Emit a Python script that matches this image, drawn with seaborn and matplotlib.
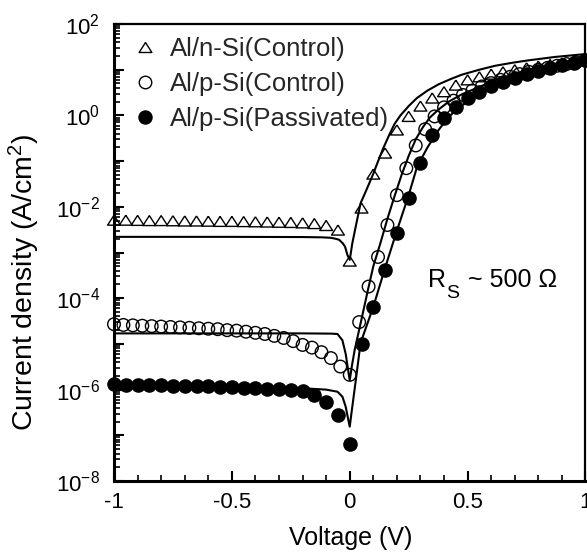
import numpy as np
import pandas as pd
import matplotlib
matplotlib.use("Agg")
import matplotlib.pyplot as plt
import seaborn as sns
from matplotlib.lines import Line2D
from matplotlib.ticker import FixedLocator, FuncFormatter, LogLocator, MultipleLocator, FixedFormatter, NullFormatter

# ---------------- data ----------------
# Al/n-Si (Control) : open triangles
tri_v = [-1.00, -0.95, -0.90, -0.85, -0.80, -0.75, -0.70, -0.65, -0.60, -0.55,
         -0.50, -0.45, -0.40, -0.35, -0.30, -0.25, -0.20, -0.15, -0.10, -0.05,
         0.00, 0.05, 0.10, 0.15, 0.20, 0.25, 0.30, 0.35, 0.40, 0.45,
         0.50, 0.55, 0.60, 0.65, 0.70, 0.75, 0.80, 0.85, 0.90, 0.95, 1.00]
tri_j = [5.1e-3, 5.1e-3, 5.05e-3, 5.0e-3, 5.0e-3, 4.95e-3, 4.9e-3, 4.9e-3, 4.85e-3, 4.8e-3,
         4.8e-3, 4.75e-3, 4.7e-3, 4.65e-3, 4.6e-3, 4.55e-3, 4.45e-3, 4.3e-3, 3.9e-3, 3.1e-3,
         6.5e-4, 9.4e-3, 5.2e-2, 0.15, 0.48, 0.95, 1.6, 2.4, 3.3, 4.6,
         6.0, 7.0, 8.0, 9.0, 10.0, 11.0, 12.0, 13.0, 14.0, 15.0, 16.0]

# Al/p-Si (Control) : open circles
cir_v = [-1.00, -0.96, -0.92, -0.88, -0.84, -0.80, -0.76, -0.72, -0.68, -0.64,
         -0.60, -0.56, -0.52, -0.48, -0.44, -0.40, -0.36, -0.32, -0.28, -0.24,
         -0.20, -0.16, -0.12, -0.08, -0.04, 0.00,
         0.04, 0.08, 0.12, 0.16, 0.20, 0.24, 0.28, 0.32, 0.36, 0.40,
         0.44, 0.48, 0.52, 0.56, 0.60, 0.64, 0.68, 0.72, 0.76, 0.80,
         0.84, 0.88, 0.92, 0.96, 1.00]
cir_j = [2.7e-5, 2.6e-5, 2.55e-5, 2.5e-5, 2.45e-5, 2.4e-5, 2.35e-5, 2.3e-5, 2.25e-5, 2.2e-5,
         2.15e-5, 2.1e-5, 2.0e-5, 1.95e-5, 1.85e-5, 1.75e-5, 1.65e-5, 1.5e-5, 1.35e-5, 1.15e-5,
         9.5e-6, 8.3e-6, 6.6e-6, 4.9e-6, 3.2e-6, 2.1e-6,
         3.0e-5, 1.8e-4, 8.0e-4, 4.0e-3, 1.8e-2, 7.0e-2, 0.22, 0.5, 0.95, 1.5,
         2.1, 2.8, 3.5, 4.3, 5.1, 6.0, 7.0, 8.0, 9.0, 10.0,
         11.0, 12.2, 13.3, 14.5, 15.8]

# Al/p-Si (Passivated) : filled circles
fil_v = [-1.00, -0.95, -0.90, -0.85, -0.80, -0.75, -0.70, -0.65, -0.60, -0.55,
         -0.50, -0.45, -0.40, -0.35, -0.30, -0.25, -0.20, -0.15, -0.10, -0.05,
         0.00, 0.05, 0.10, 0.15, 0.20, 0.25, 0.30, 0.35, 0.40, 0.45,
         0.50, 0.55, 0.60, 0.65, 0.70, 0.75, 0.80, 0.85, 0.90, 0.95, 1.00]
fil_j = [1.3e-6, 1.28e-6, 1.27e-6, 1.26e-6, 1.25e-6, 1.23e-6, 1.22e-6, 1.2e-6, 1.18e-6, 1.16e-6,
         1.13e-6, 1.1e-6, 1.08e-6, 1.05e-6, 1.02e-6, 9.9e-7, 9.5e-7, 7.6e-7, 5.3e-7, 2.8e-7,
         6.5e-8, 1.0e-5, 6.4e-5, 4.2e-4, 2.7e-3, 1.55e-2, 9.0e-2, 0.37, 0.87, 1.5,
         2.4, 3.3, 4.4, 5.5, 6.6, 8.0, 9.5, 11.0, 12.5, 14.0, 16.0]

# fitted curves (solid lines)
fit_tri_v = [-1.0, -0.5, -0.2, -0.12, -0.08, -0.06, -0.045, -0.03, -0.02, -0.01, 0.0,
             0.011, 0.025, 0.046, 0.065, 0.082, 0.1, 0.117, 0.14, 0.166, 0.19, 0.215,
             0.25, 0.285, 0.33, 0.377, 0.43, 0.476, 0.55, 0.617, 0.69, 0.757, 0.87, 1.0]
fit_tri_j = [2.2e-3, 2.2e-3, 2.18e-3, 2.15e-3, 2.1e-3, 2.0e-3, 1.9e-3, 1.6e-3, 1.35e-3, 8.9e-4, 6.9e-4,
             1.6e-3, 3.6e-3, 1.2e-2, 2.0e-2, 3.2e-2, 5.3e-2, 0.09, 0.18, 0.36, 0.65, 1.0,
             1.6, 2.4, 3.5, 4.8, 6.3, 7.8, 10.0, 12.2, 14.2, 16.0, 19.0, 22.0]

fit_cir_v = [-1.0, -0.5, -0.2, -0.08, -0.052, -0.031, -0.017, -0.007, 0.0,
             0.01, 0.021, 0.049, 0.077, 0.1, 0.13, 0.16, 0.19, 0.22, 0.25, 0.28,
             0.31, 0.34, 0.377, 0.42, 0.476, 0.55, 0.617, 0.69, 0.757, 0.87, 1.0]
fit_cir_j = [1.7e-5, 1.7e-5, 1.7e-5, 1.68e-5, 1.65e-5, 1.2e-5, 6.0e-6, 2.7e-6, 1.6e-6,
             3.5e-6, 7.4e-6, 3.3e-5, 1.5e-4, 5.0e-4, 1.6e-3, 5.5e-3, 1.7e-2, 5.0e-2, 0.13, 0.3,
             0.55, 0.9, 1.35, 2.0, 2.9, 4.2, 5.9, 7.8, 9.8, 13.5, 18.0]

fit_fil_v = [-1.0, -0.5, -0.2, -0.1, -0.052, -0.031, -0.017, -0.007, 0.0,
             0.01, 0.025, 0.046, 0.1, 0.15, 0.2, 0.25, 0.286, 0.33, 0.377, 0.41,
             0.448, 0.5, 0.546, 0.6, 0.687, 0.76, 0.828, 0.9, 1.0]
fit_fil_j = [1.15e-6, 1.12e-6, 1.07e-6, 1.0e-6, 9.0e-7, 7.0e-7, 4.2e-7, 2.3e-7, 1.55e-7,
             3.9e-7, 1.5e-6, 1.05e-5, 6.5e-5, 4.6e-4, 3.0e-3, 1.8e-2, 7.6e-2, 0.2, 0.48, 0.8,
             1.3, 2.0, 2.8, 3.8, 5.9, 7.8, 9.8, 12.0, 16.5]

series_labels = ["Al/n-Si(Control)", "Al/p-Si(Control)", "Al/p-Si(Passivated)"]
x_ticks = [-1.0, -0.5, 0.0, 0.5, 1.0]
x_ticklabels = ["-1", "-0.5", "0", "0.5", "1"]
y_decades = list(range(-8, 3))

# ---------------- style ----------------
sns.set_theme(style="ticks")
plt.rcParams["font.family"] = ["Liberation Sans", "DejaVu Sans"]
plt.rcParams["mathtext.fontset"] = "custom"
plt.rcParams["mathtext.rm"] = "Liberation Sans"
plt.rcParams["mathtext.it"] = "Liberation Sans:italic"
plt.rcParams["mathtext.default"] = "regular"

fig = plt.figure(figsize=(5.87, 5.57), dpi=100)
fig.patch.set_facecolor("white")
ax = fig.add_axes([0.1942, 0.1364, 0.8032, 0.8205])
ax.set_facecolor("white")
ax.set_yscale("log")

# fitted lines
for fv, fj in [(fit_tri_v, fit_tri_j), (fit_cir_v, fit_cir_j), (fit_fil_v, fit_fil_j)]:
    sns.lineplot(x=fv, y=fj, sort=False, estimator=None, color="black",
                 linewidth=1.5, ax=ax, legend=False)

tri_marker = [(0.0, 0.78), (-1.0, -0.78), (1.0, -0.78), (0.0, 0.78)]

def add_points(v, j, marker, size, filled):
    n_before = len(ax.collections)
    sns.scatterplot(x=v, y=j, marker=marker, s=size, ax=ax, legend=False,
                    color="black", zorder=3, clip_on=False)
    coll = ax.collections[n_before]
    coll.set_facecolor("black" if filled else "none")
    coll.set_edgecolor("black")
    coll.set_linewidth(1.0)

add_points(tri_v, tri_j, tri_marker, 85, False)
add_points(cir_v, cir_j, "o", 82, False)
add_points(fil_v, fil_j, "o", 90, True)

ax.set_xlim(-1, 1)
ax.set_ylim(1e-8, 1e2)

ax.xaxis.set_major_locator(FixedLocator(x_ticks))
ax.xaxis.set_major_formatter(FixedFormatter(x_ticklabels))
ax.xaxis.set_minor_locator(MultipleLocator(0.1))

ax.yaxis.set_major_locator(FixedLocator([10.0 ** k for k in y_decades]))
ax.yaxis.set_major_formatter(FuncFormatter(
    lambda val, pos: (r"$\mathregular{10^{%d}}$" % int(round(np.log10(val))))
    if int(round(np.log10(val))) % 2 == 0 else ""))
ax.yaxis.set_minor_locator(LogLocator(base=10, subs=np.arange(2, 10), numticks=100))
ax.yaxis.set_minor_formatter(NullFormatter())

ax.tick_params(which="both", direction="in", top=False, right=False, colors="black")
ax.tick_params(which="major", length=7, width=1.5, labelsize=16)
ax.tick_params(which="minor", length=4, width=1.2)
ax.tick_params(axis="x", which="major", pad=8)
ax.tick_params(axis="y", which="major", pad=10)

for side in ["left", "bottom"]:
    ax.spines[side].set_linewidth(2.2)
for side in ["top", "right"]:
    ax.spines[side].set_linewidth(1.6)
for s in ax.spines.values():
    s.set_color("black")

ax.set_xlabel("Voltage (V)", fontsize=18, color="black")
ax.xaxis.set_label_coords(0.502, -0.098)
ax.set_ylabel(r"Current density (A/cm$^{2}$)", fontsize=20.5, color="black")
ax.yaxis.set_label_coords(-0.153, 0.435)

# R_S ~ 500 Ohm annotation (R, subscript S, rest)
t_r = ax.text(0.665, 0.4245, "R", transform=ax.transAxes,
              ha="left", va="baseline", fontsize=18, color="black")
fig.canvas.draw()
renderer = fig.canvas.get_renderer()
bb_r = t_r.get_window_extent(renderer)
base_disp = ax.transAxes.transform((0.665, 0.4245))
s_axes = ax.transAxes.inverted().transform((bb_r.x1 + 0.5, base_disp[1] - 11))
t_s = ax.text(s_axes[0], s_axes[1], "S", transform=ax.transAxes,
              ha="left", va="baseline", fontsize=14, color="black")
fig.canvas.draw()
bb_s = t_s.get_window_extent(renderer)
rest_axes = ax.transAxes.inverted().transform((bb_s.x1 + 9, base_disp[1]))
ax.text(rest_axes[0], 0.4245, "~ 500 Ω", transform=ax.transAxes,
        ha="left", va="baseline", fontsize=18, color="black")

handles = [
    Line2D([], [], marker=tri_marker, ls="none", mfc="none", mec="black", ms=9.2, mew=1.0),
    Line2D([], [], marker="o", ls="none", mfc="none", mec="black", ms=9.0, mew=1.0),
    Line2D([], [], marker="o", ls="none", mfc="black", mec="black", ms=9.4, mew=1.0),
]
ax.legend(handles, series_labels, loc="upper left", bbox_to_anchor=(0.039, 0.971),
          frameon=False, fontsize=18.5, borderpad=0, borderaxespad=0,
          handlelength=1.0, handletextpad=0.45, labelspacing=0.42)

fig.savefig("out.png", dpi=100)
